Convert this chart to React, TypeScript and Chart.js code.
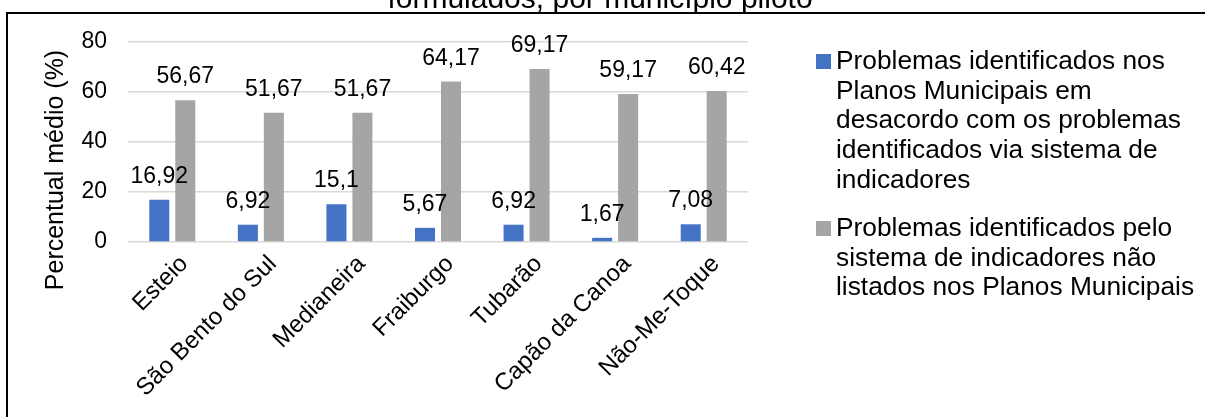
import React, { useEffect, useRef } from "react";
import { Chart, registerables } from "chart.js";

Chart.register(...registerables);

const categories = [
  "Esteio",
  "São Bento do Sul",
  "Medianeira",
  "Fraiburgo",
  "Tubarão",
  "Capão da Canoa",
  "Não-Me-Toque",
];
const seriesA = [16.92, 6.92, 15.1, 5.67, 6.92, 1.67, 7.08];
const seriesB = [56.67, 51.67, 51.67, 64.17, 69.17, 59.17, 60.42];
const seriesALabelLines = [
  "Problemas identificados nos",
  "Planos Municipais em",
  "desacordo com os problemas",
  "identificados via sistema de",
  "indicadores",
];
const seriesBLabelLines = [
  "Problemas identificados pelo",
  "sistema de indicadores não",
  "listados nos Planos Municipais",
];
const titleText = "formulados, por município piloto";
const yTitle = "Percentual médio (%)";
const yTicks = [0, 20, 40, 60, 80];

const FONT = "'Liberation Sans', Arial, sans-serif";
const BLUE = "#4472C4";
const GRAY = "#A5A5A5";

const W = 1205;
const H = 417;

export default function App() {
  const ref = useRef<HTMLCanvasElement | null>(null);

  useEffect(() => {
    const canvas = ref.current;
    if (!canvas) return;

    const framePlugin = {
      id: "frame",
      beforeDraw(chart: any) {
        const ctx = chart.ctx;
        ctx.save();
        ctx.fillStyle = "#ffffff";
        ctx.fillRect(0, 0, W, H);
        ctx.fillStyle = "#000";
        ctx.font = `30px ${FONT}`;
        ctx.textAlign = "center";
        ctx.textBaseline = "alphabetic";
        ctx.fillText(titleText, 600, 8);
        ctx.strokeStyle = "#000";
        ctx.lineWidth = 2;
        ctx.beginPath();
        ctx.moveTo(7, 417);
        ctx.lineTo(7, 13);
        ctx.lineTo(1205, 13);
        ctx.stroke();
        ctx.restore();
      },
    };

    const decoPlugin = {
      id: "deco",
      afterDatasetsDraw(chart: any) {
        const ctx = chart.ctx;
        ctx.save();
        ctx.fillStyle = "#000";
        ctx.font = `23px ${FONT}`;
        ctx.textAlign = "center";
        ctx.textBaseline = "alphabetic";
        chart.data.datasets.forEach((ds: any, di: number) => {
          const meta = chart.getDatasetMeta(di);
          meta.data.forEach((bar: any, i: number) => {
            const v = ds.data[i];
            const txt = String(v).replace(".", ",");
            ctx.fillText(txt, bar.x, bar.y - 17);
          });
        });
        ctx.restore();
      },
      afterDraw(chart: any) {
        const ctx = chart.ctx;
        ctx.save();
        ctx.fillStyle = "#000";
        ctx.font = `25px ${FONT}`;
        ctx.translate(56, 170);
        ctx.rotate(-Math.PI / 2);
        ctx.textAlign = "center";
        ctx.textBaseline = "middle";
        ctx.fillText(yTitle, 0, 0);
        ctx.restore();

        ctx.save();
        ctx.font = `26.3px ${FONT}`;
        ctx.textAlign = "left";
        ctx.textBaseline = "middle";
        const items = [
          { lines: seriesALabelLines, color: BLUE, y0: 62 },
          { lines: seriesBLabelLines, color: GRAY, y0: 229 },
        ];
        items.forEach((it) => {
          ctx.fillStyle = it.color;
          ctx.fillRect(816, it.y0 - 8, 15, 15);
          ctx.fillStyle = "#000";
          it.lines.forEach((ln, k) => {
            ctx.fillText(ln, 836, it.y0 + k * 29.6);
          });
        });
        ctx.restore();
      },
    };

    const chart = new Chart(canvas, {
      type: "bar",
      data: {
        labels: categories,
        datasets: [
          {
            label: seriesALabelLines.join(" "),
            data: seriesA,
            backgroundColor: BLUE,
            categoryPercentage: 0.587,
            barPercentage: 0.77,
          },
          {
            label: seriesBLabelLines.join(" "),
            data: seriesB,
            backgroundColor: GRAY,
            categoryPercentage: 0.587,
            barPercentage: 0.77,
          },
        ],
      },
      options: {
        responsive: false,
        animation: false,
        devicePixelRatio: 1,
        layout: { padding: { left: 0, top: 42, right: 457, bottom: 0 } },
        plugins: {
          legend: { display: false },
          title: { display: false },
          tooltip: { enabled: false },
        },
        scales: {
          x: {
            grid: { display: false },
            border: { display: false },
            ticks: {
              color: "#000",
              font: { family: FONT, size: 24 },
              maxRotation: 45,
              minRotation: 45,
              autoSkip: false,
              padding: 0,
              labelOffset: 12,
            },
            afterFit(scale: any) {
              scale.height = 175;
            },
          },
          y: {
            min: 0,
            max: 80,
            afterBuildTicks(scale: any) {
              scale.ticks = yTicks.map((v) => ({ value: v }));
            },
            grid: {
              color: "#D9D9D9",
              lineWidth: 1.5,
              drawTicks: false,
            },
            border: { display: false },
            ticks: {
              color: "#000",
              font: { family: FONT, size: 23 },
              padding: 21,
            },
            afterFit(scale: any) {
              scale.width = 128;
            },
          },
        },
      },
      plugins: [framePlugin, decoPlugin],
    } as any);

    return () => chart.destroy();
  }, []);

  return (
    <div style={{ position: "absolute", left: 0, top: 0, width: W, height: H }}>
      <canvas ref={ref} width={W} height={H} style={{ display: "block", width: W, height: H }} />
    </div>
  );
}
